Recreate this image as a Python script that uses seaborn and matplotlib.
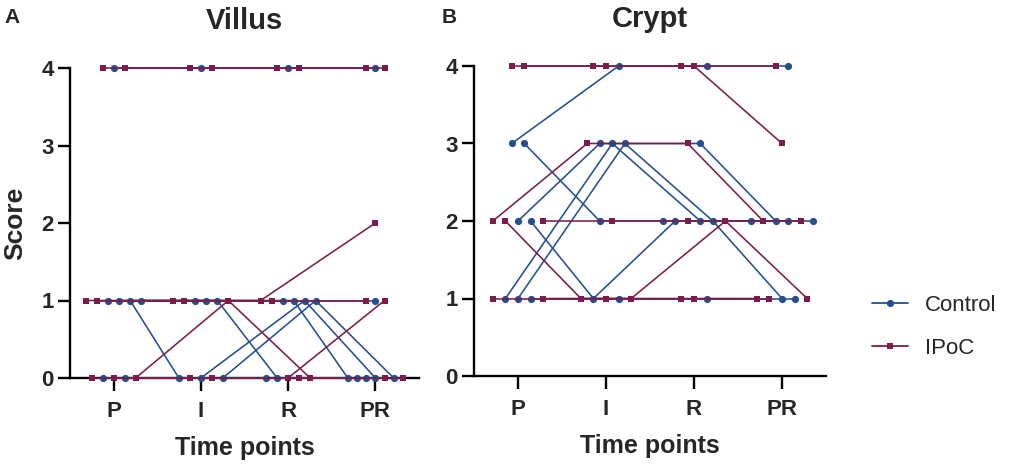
import numpy as np
import pandas as pd
import matplotlib
matplotlib.use("Agg")
import matplotlib.pyplot as plt
from matplotlib.lines import Line2D
import seaborn as sns

# ---------------- data ----------------
time_points = ["P", "I", "R", "PR"]
group_names = ["Control", "IPoC"]

villus_groups = ["IPoC", "Control", "IPoC", "IPoC", "IPoC", "Control", "Control",
                 "Control", "Control", "IPoC", "Control", "IPoC", "Control", "IPoC"]
villus_scores = [
    [4, 4, 4, 4],
    [4, 4, 4, 4],
    [4, 4, 4, 4],
    [1, 1, 1, 2],
    [1, 1, 1, 1],
    [1, 1, 1, 1],
    [1, 1, 1, 0],
    [1, 0, 0, 0],
    [1, 1, 0, 0],
    [0, 0, 0, 1],
    [0, 0, 1, 0],
    [0, 0, 0, 0],
    [0, 0, 1, 0],
    [0, 1, 0, 0],
]

crypt_groups = ["IPoC", "IPoC", "Control", "Control", "IPoC", "IPoC", "Control",
                "Control", "IPoC", "IPoC", "Control", "Control", "Control", "IPoC"]
crypt_scores = [
    [4, 4, 4, 4],
    [4, 4, 4, 3],
    [3, 4, 4, 4],
    [3, 2, 2, 2],
    [2, 3, 3, 2],
    [2, 1, 1, 1],
    [2, 3, 3, 2],
    [2, 1, 2, 2],
    [2, 2, 2, 2],
    [1, 1, 1, 1],
    [1, 3, 2, 2],
    [1, 3, 2, 1],
    [1, 1, 1, 1],
    [1, 1, 2, 1],
]

panel_titles = ["Villus", "Crypt"]
panel_letters = ["A", "B"]

# ---------------- style ----------------
colors = {"Control": "#24508f", "IPoC": "#7d1c4c"}
markers = {"Control": "o", "IPoC": "s"}
marker_sizes = {"Control": 5.2, "IPoC": 5.0}

sns.set_style("ticks")
plt.rcParams["font.family"] = ["Liberation Sans", "DejaVu Sans"]
plt.rcParams["font.weight"] = "bold"
plt.rcParams["axes.labelweight"] = "bold"
plt.rcParams["axes.titleweight"] = "bold"


def build_frame(groups, scores, step, maxw):
    scores = np.asarray(scores)
    rows = []
    n_sub = len(groups)
    for t in range(len(time_points)):
        vals = scores[:, t]
        uniq, counts = np.unique(vals, return_counts=True)
        nmax = counts.max()
        s = step if nmax <= 1 else min(step, maxw / (nmax - 1))
        for v, n in zip(uniq, counts):
            members = [i for i in range(n_sub) if vals[i] == v]
            for k, i in enumerate(members):
                off = (k - (n - 1) / 2) * s
                rows.append({"subject": i, "group": groups[i], "time": t,
                             "x": t + off, "score": v})
    return pd.DataFrame(rows)


W, H = 1013, 465
fig = plt.figure(figsize=(W / 100, H / 100), dpi=100)

axes_px = [(70, 68, 419, 378), (474, 66, 826, 376)]
params = [(0.126, 0.63), (0.143, 0.72)]
datasets = [(villus_groups, villus_scores), (crypt_groups, crypt_scores)]

for idx, ((l, t, r, b), (step, maxw), (grp, sc)) in enumerate(zip(axes_px, params, datasets)):
    ax = fig.add_axes([l / W, 1 - b / H, (r - l) / W, (b - t) / H])
    df = build_frame(grp, sc, step, maxw)
    sns.lineplot(data=df, x="x", y="score", hue="group", units="subject",
                 estimator=None, style="group", markers=markers, dashes=False,
                 palette=colors, hue_order=group_names, style_order=group_names,
                 linewidth=1.15, markeredgewidth=0, legend=False,
                 sort=True, ax=ax)
    for ln in ax.lines:
        ln.set_clip_on(False)
        ln.set_zorder(3)
        mk = ln.get_marker()
        ln.set_markersize(marker_sizes["IPoC"] if mk == "s" else marker_sizes["Control"])
    ax.set_xlim(-0.5, 3.5)
    ax.set_ylim(0, 4)
    ax.set_xticks(range(len(time_points)))
    ax.set_xticklabels(time_points)
    ax.set_yticks([0, 1, 2, 3, 4])
    for sp in ["top", "right"]:
        ax.spines[sp].set_visible(False)
    for sp in ["left", "bottom"]:
        ax.spines[sp].set_linewidth(1.7)
        ax.spines[sp].set_color("black")
    ax.tick_params(axis="x", width=1.7, length=9.5, labelsize=16, pad=7, color="black")
    ax.tick_params(axis="y", width=1.7, length=8.6, labelsize=16, pad=3, color="black")
    ax.set_xlabel("Time points", fontsize=18, labelpad=10)
    if idx == 0:
        ax.set_ylabel("Score", fontsize=19, labelpad=10)
    else:
        ax.set_ylabel("")
    ax.set_title(panel_titles[idx], fontsize=21, pad=28)

fig.text(4 / W, 1 - 8 / H, panel_letters[0], fontsize=15, fontweight="bold", va="top", ha="left")
fig.text(442 / W, 1 - 8 / H, panel_letters[1], fontsize=15, fontweight="bold", va="top", ha="left")

handles = [Line2D([0], [0], color=colors[g], marker=markers[g], markersize=marker_sizes[g],
                  markeredgewidth=0, linewidth=1.3) for g in group_names]
fig.legend(handles, group_names, loc="center left", bbox_to_anchor=(872 / W, 1 - 327 / H),
           frameon=False, prop={"size": 16, "weight": "normal"}, handlelength=1.6,
           handletextpad=0.8, labelspacing=1.0, borderpad=0, borderaxespad=0)

fig.savefig("out.png", dpi=100)
